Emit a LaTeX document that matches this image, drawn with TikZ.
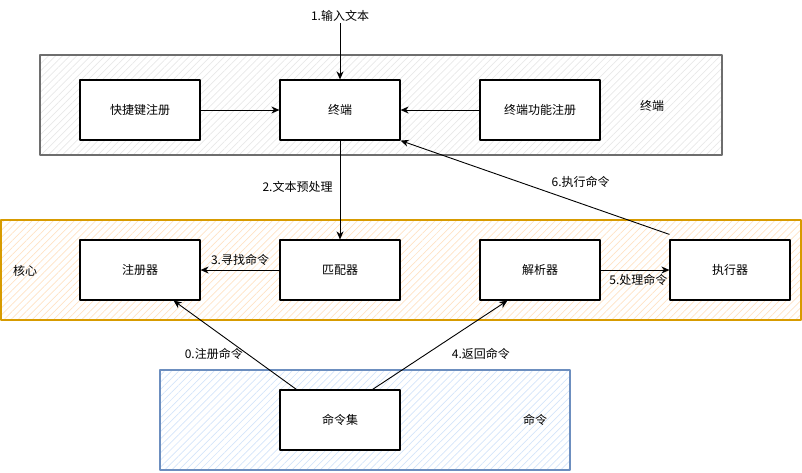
\documentclass[tikz,border=0pt]{standalone}
\usepackage{fontspec}
\setmainfont{Noto Sans CJK SC}
\usetikzlibrary{arrows.meta,patterns.meta}
\definecolor{tmDraw}{HTML}{6E6E6E}
\definecolor{tmFill}{HTML}{E8E8E8}
\definecolor{coDraw}{HTML}{D79B00}
\definecolor{coFill}{HTML}{FFE2C4}
\definecolor{cmDraw}{HTML}{6C8EBF}
\definecolor{cmFill}{HTML}{D4E4FA}
\tikzset{
 flow/.style={font=\fontsize{12}{14}\selectfont,line join=round,x=1pt,y=-1pt},
 group/.style={pattern={Lines[angle=45,distance=5pt,line width=.7pt]},pattern color=#1Fill,
   postaction={draw=#1Draw,line width=1.2pt}},
 box/.style={draw=black,fill=white,line width=1.2pt,minimum width=120pt,minimum height=60pt,inner sep=0pt},
 link/.style={draw=black,line width=.9pt,-{Stealth[length=8pt,width=7pt,inset=2.5pt]}},
 lbl/.style={inner sep=1pt}
}

\begin{document}
\begin{tikzpicture}[flow]
 \useasboundingbox (0,0) rectangle (802,472);
 % group panels
 \path[group=tm] (40,55) rectangle (722,155);
 \path[group=co] (1,220) rectangle (801,320);
 \path[group=cm] (160,370) rectangle (570,470);
 \node (tmname) at (652,106) {终端};
 \node (coname) at (25,271) {核心};
 \node (cmname) at (535,420) {命令};
 % boxes
 \node[box] (hotkey) at (140,110) {快捷键注册};
 \node[box] (term) at (340,110) {终端};
 \node[box] (func) at (540,110) {终端功能注册};
 \node[box] (reg) at (140,270) {注册器};
 \node[box] (match) at (340,270) {匹配器};
 \node[box] (parse) at (540,270) {解析器};
 \node[box] (exec) at (730,270) {执行器};
 \node[box] (cmdset) at (340,420) {命令集};
 \node[lbl] (input) at (340,16) {1.输入文本};
 % connectors
 \draw[link] (input.south) -- (term.north);
 \draw[link] (hotkey) -- (term);
 \draw[link] (func) -- (term);
 \draw[link] (term) -- node[lbl,left=6pt,pos=.47] {2.文本预处理} (match);
 \draw[link] (match) -- node[lbl,above=3pt] {3.寻找命令} (reg);
 \draw[link] (parse) -- node[lbl,below=3pt,pos=.55] {5.处理命令} (exec);
 \draw[link] ([xshift=17pt]cmdset.north west) -- node[lbl,pos=.4,left=3pt] {0.注册命令} ([xshift=-27pt]reg.south east);
 \draw[link] ([xshift=-28pt]cmdset.north east) -- node[lbl,pos=.4,right=24pt] {4.返回命令} ([xshift=28pt]parse.south west);
 \draw[link] ([yshift=5pt]exec.north west) -- node[lbl,pos=.33,above=14pt] {6.执行命令} (term.south east);
\end{tikzpicture}
\end{document}
